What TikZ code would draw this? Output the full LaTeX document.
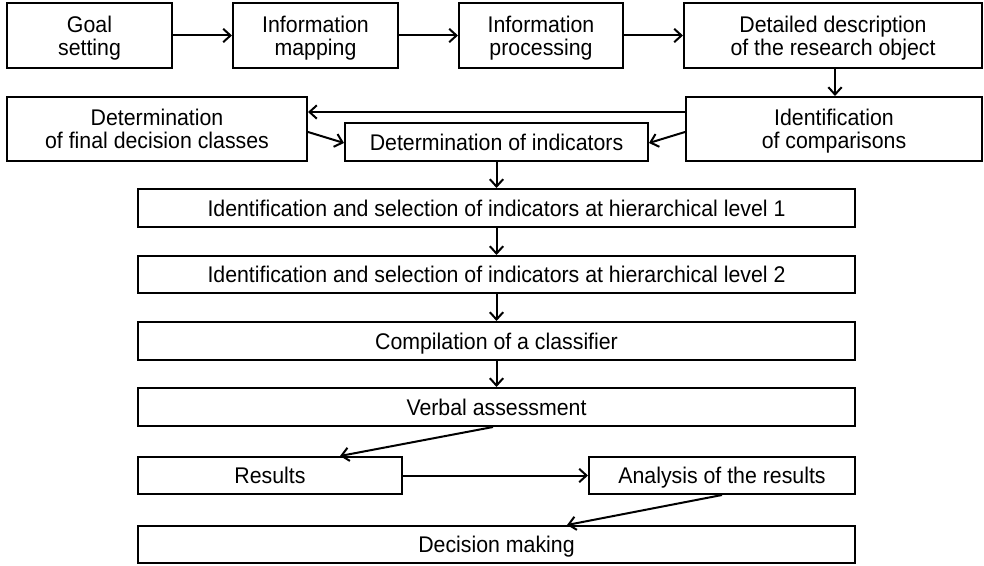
\documentclass[tikz,border=0pt]{standalone}
\usepackage{fontspec}
\setmainfont[FakeStretch=0.94]{Liberation Sans}
\usetikzlibrary{arrows.meta}
\begin{document}
\begin{tikzpicture}[x=0.75pt,y=-0.75pt,
  box/.style={draw, line width=1.5pt, inner sep=0pt, align=center,
    font=\fontsize{17pt}{17.5pt}\selectfont},
  twoline/.style={box, text depth=0pt},
  oneline/.style={box, text height=12.2pt, text depth=0pt},
  arr/.style={line width=1.5pt, -{Straight Barb[length=5.5pt,width=10pt,line width=1.5pt]}}]
\useasboundingbox (0,0) rectangle (984,566);
% top row
\node[twoline, minimum width=165*0.75pt, minimum height=65*0.75pt] (goal) at (89.5,35.5) {Goal\\setting};
\node[twoline, minimum width=165*0.75pt, minimum height=65*0.75pt] (map) at (315.5,35.5) {Information\\mapping};
\node[twoline, minimum width=164*0.75pt, minimum height=65*0.75pt] (proc) at (541,35.5) {Information\\processing};
\node[twoline, minimum width=298*0.75pt, minimum height=65*0.75pt] (detail) at (833,35.5) {Detailed description\\of the research object};
% second row
\node[twoline, minimum width=300*0.75pt, minimum height=64*0.75pt] (classes) at (157,129) {Determination\\of final decision classes};
\node[twoline, minimum width=296*0.75pt, minimum height=64*0.75pt] (comp) at (834,129) {Identification\\of comparisons};
\node[oneline, minimum width=303*0.75pt, minimum height=38*0.75pt] (ind) at (496.5,142) {Determination of indicators};
% wide column
\node[oneline, minimum width=717*0.75pt, minimum height=38*0.75pt] (lev1) at (496.5,208) {Identification and selection of indicators at hierarchical level 1};
\node[oneline, minimum width=717*0.75pt, minimum height=37*0.75pt] (lev2) at (496.5,274.5) {Identification and selection of indicators at hierarchical level 2};
\node[oneline, minimum width=717*0.75pt, minimum height=38*0.75pt] (clf) at (496.5,341) {Compilation of a classifier};
\node[oneline, minimum width=717*0.75pt, minimum height=38*0.75pt] (verbal) at (496.5,407) {Verbal assessment};
\node[oneline, minimum width=264*0.75pt, minimum height=37*0.75pt] (res) at (270,475.5) {Results};
\node[oneline, minimum width=266*0.75pt, minimum height=37*0.75pt] (anal) at (722,475.5) {Analysis of the results};
\node[oneline, minimum width=717*0.75pt, minimum height=37*0.75pt] (dec) at (496.5,544.5) {Decision making};
% connectors
\draw[arr] (goal.east) -- (map.west);
\draw[arr] (map.east) -- (proc.west);
\draw[arr] (proc.east) -- (detail.west);
\draw[arr] (detail.south -| 835,0) -- (comp.north -| 835,0);
\draw[arr] (comp.west |- 0,112) -- (classes.east |- 0,112);
\draw[arr] (classes.east |- 0,132) -- (ind.west |- 0,143);
\draw[arr] (comp.west |- 0,132) -- (ind.east |- 0,143);
\draw[arr] (ind.south) -- (lev1.north);
\draw[arr] (lev1.south) -- (lev2.north);
\draw[arr] (lev2.south) -- (clf.north);
\draw[arr] (clf.south) -- (verbal.north);
\draw[arr] (verbal.south -| 493,0) -- (res.north -| 340,0);
\draw[arr] (res.east) -- (anal.west);
\draw[arr] (anal.south -| 722,0) -- (dec.north -| 567,0);
\end{tikzpicture}
\end{document}
